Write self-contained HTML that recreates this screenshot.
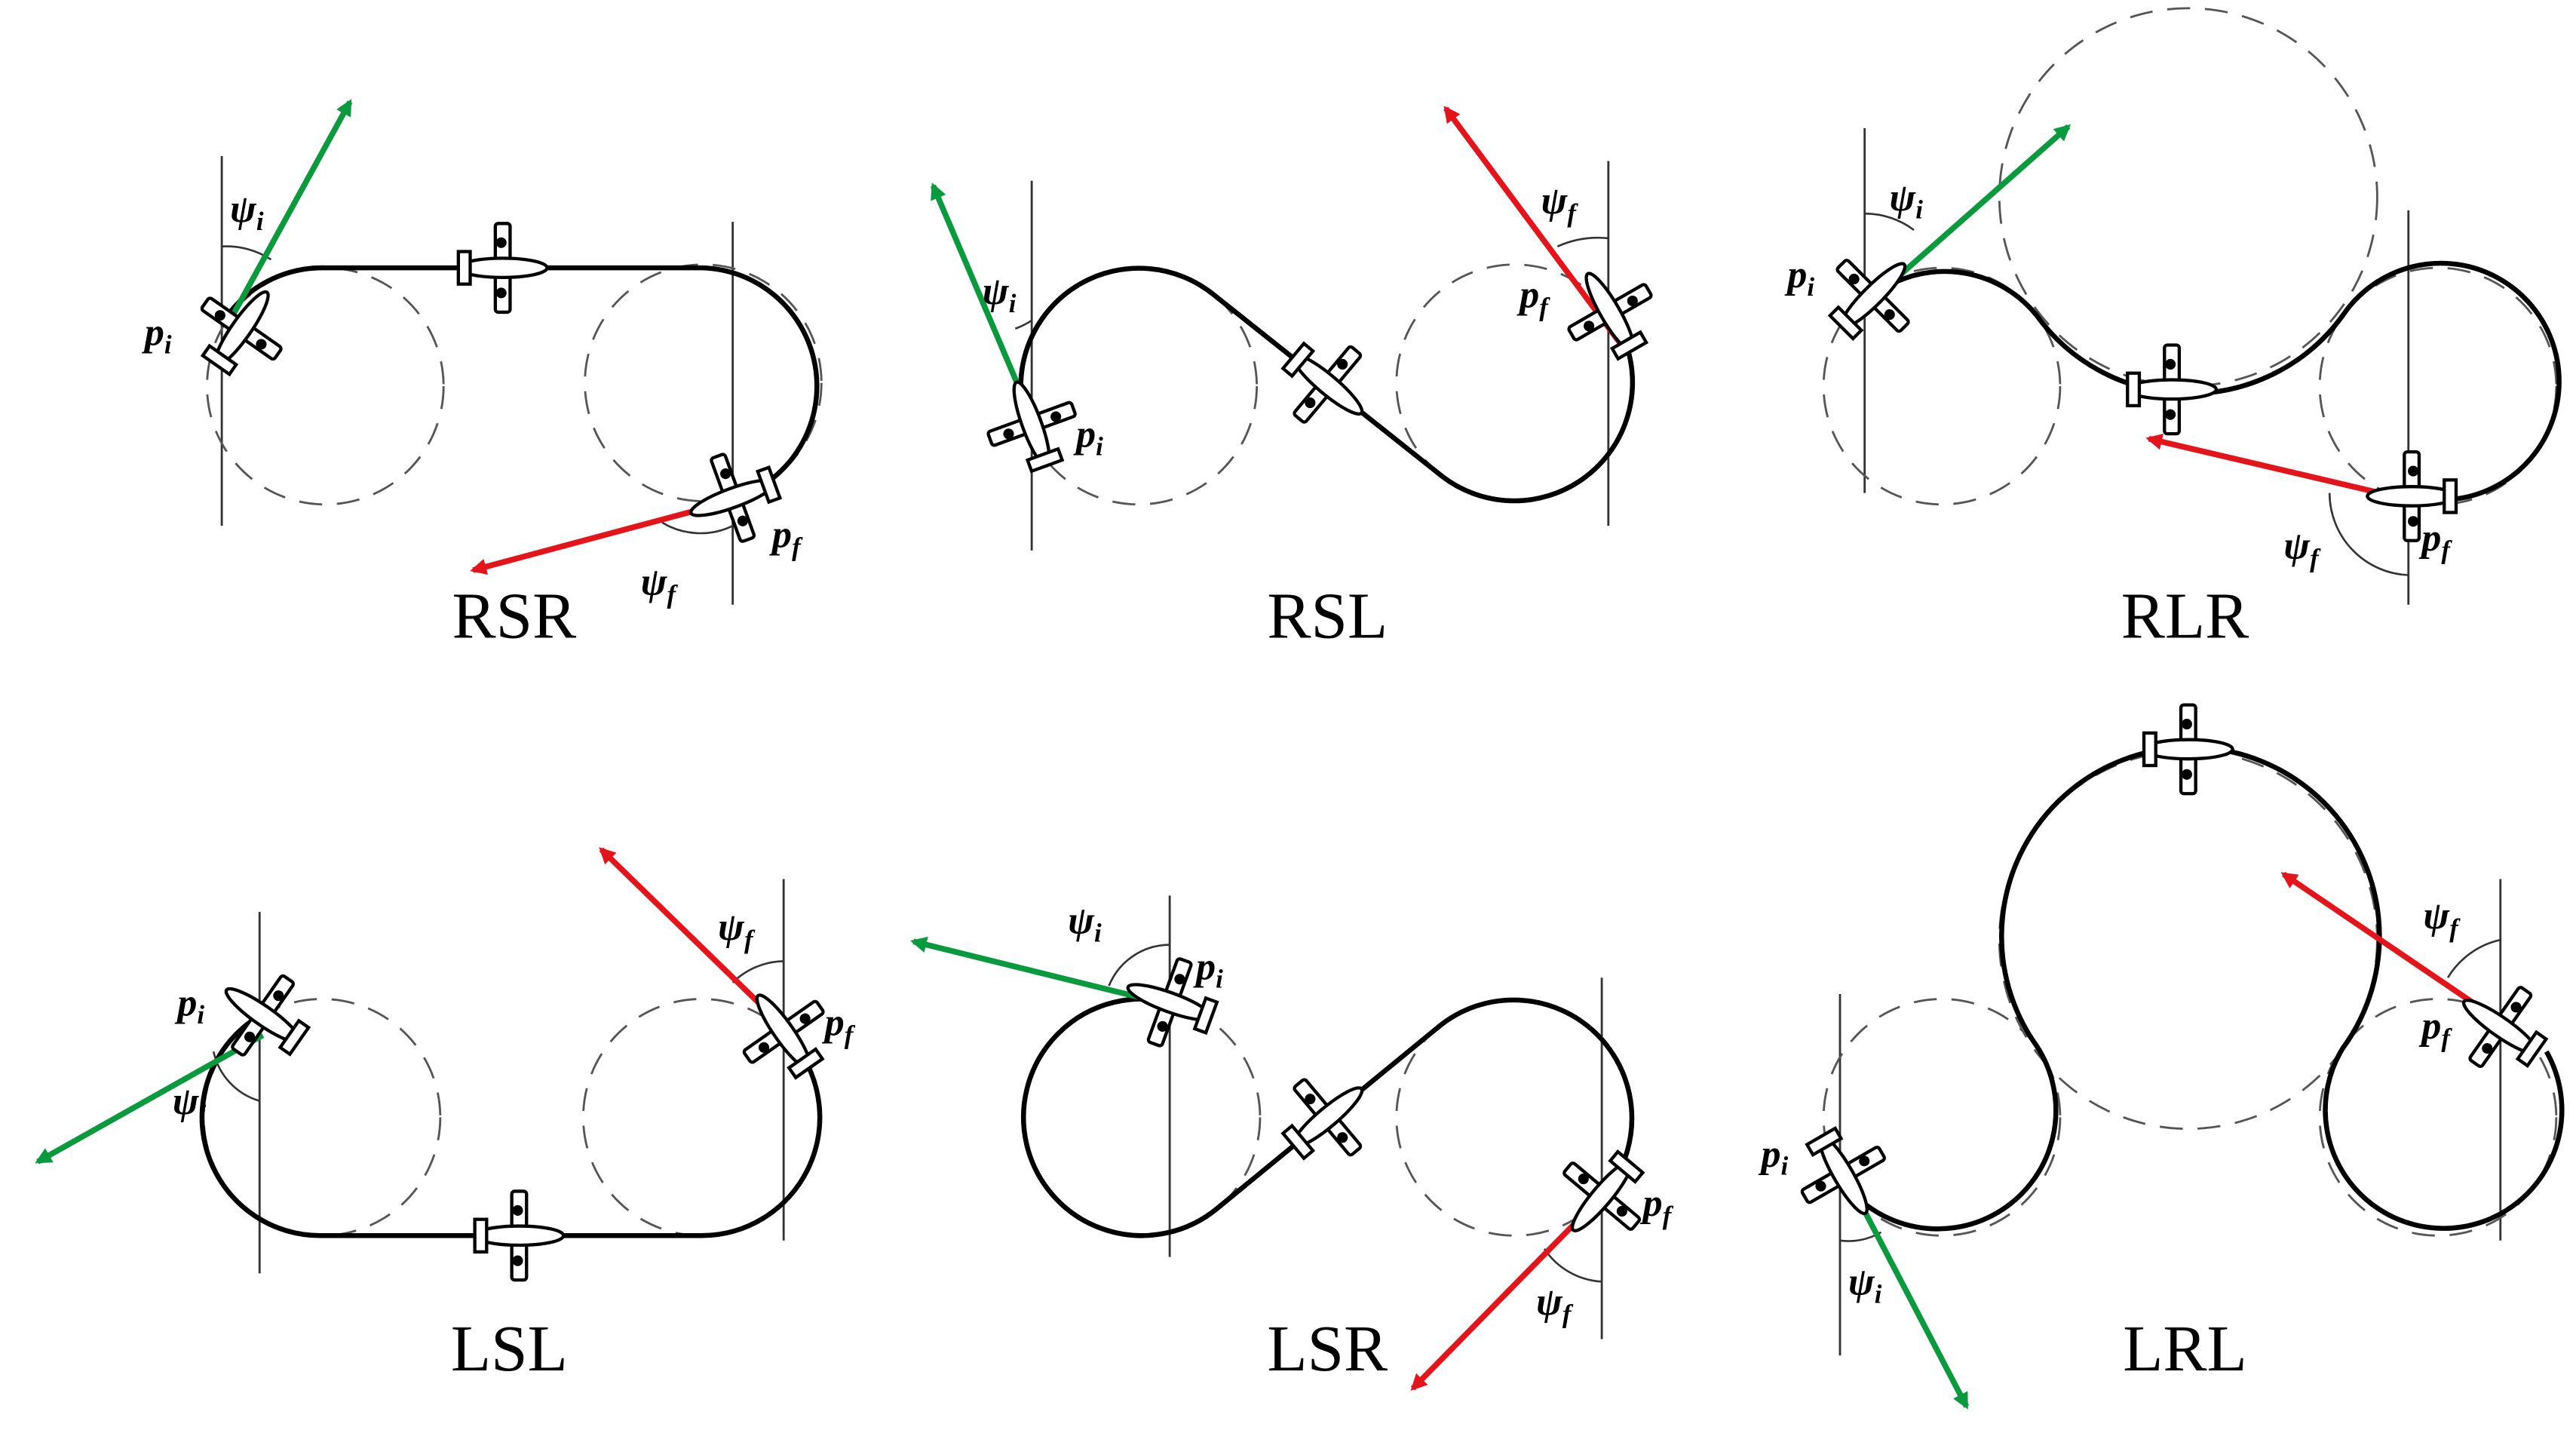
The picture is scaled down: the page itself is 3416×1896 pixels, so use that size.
<!DOCTYPE html>
<html><head><meta charset="utf-8"><style>html,body{margin:0;padding:0;background:#fff}svg{display:block}</style></head>
<body>
<svg width="3416" height="1896" viewBox="0 0 1568 870.3" xmlns="http://www.w3.org/2000/svg" font-family="Liberation Serif, serif">
<defs>
<g id="pl" fill="#fff" stroke="#000" stroke-width="2.2">
<rect x="-5" y="-30" width="10" height="60" rx="2"/>
<circle cx="-1" cy="-17" r="2.5" fill="#000"/><circle cx="-1" cy="17" r="2.5" fill="#000"/>
<ellipse cx="0" cy="0" rx="30" ry="6.5"/>
<rect x="-30" y="-11" width="8" height="22"/>
</g>
<marker id="ag" markerWidth="10" markerHeight="10" refX="8" refY="5" orient="auto" markerUnits="userSpaceOnUse"><path d="M0,0 L10,5 L0,10 Z" fill="#0a9a3e"/></marker>
<marker id="ar" markerWidth="10" markerHeight="10" refX="8" refY="5" orient="auto" markerUnits="userSpaceOnUse"><path d="M0,0 L10,5 L0,10 Z" fill="#e5141b"/></marker>
</defs>
<rect width="1568" height="871" fill="#fff"/>
<g stroke="#333" stroke-width="1.3" fill="none">
<line x1="135" y1="95" x2="135" y2="320"/><line x1="446" y1="135" x2="446" y2="368"/>
<line x1="628" y1="110" x2="628" y2="335"/><line x1="979" y1="98" x2="979" y2="320"/>
<line x1="1135" y1="78" x2="1135" y2="300"/><line x1="1466" y1="128" x2="1466" y2="368"/>
<line x1="158" y1="555" x2="158" y2="775"/><line x1="477" y1="535" x2="477" y2="755"/>
<line x1="712" y1="545" x2="712" y2="765"/><line x1="975" y1="595" x2="975" y2="815"/>
<line x1="1120" y1="605" x2="1120" y2="825"/><line x1="1522" y1="535" x2="1522" y2="755"/>
</g>
<g stroke="#555" stroke-width="1.3" fill="none" stroke-dasharray="14,9">
<circle cx="198" cy="235" r="72"/><circle cx="428" cy="233" r="72"/>
<circle cx="693" cy="235" r="72"/><circle cx="922" cy="233" r="72"/>
<circle cx="1182" cy="235" r="72"/><circle cx="1332" cy="120" r="115"/><circle cx="1484" cy="235" r="72"/>
<circle cx="196" cy="680" r="72"/><circle cx="427" cy="680" r="72"/>
<circle cx="695" cy="680" r="72"/><circle cx="922" cy="680" r="72"/>
<circle cx="1182" cy="680" r="72"/><circle cx="1332" cy="572" r="115"/><circle cx="1484" cy="680" r="72"/>
</g>
<g stroke="#000" stroke-width="3" fill="none">
<path d="M140,190 A72,72 0 0 1 198,163 L428,163 A72,72 0 0 1 460,298"/>
<path d="M622,245 A72,72 0 0 1 738.3,179 L876.7,289 A72,72 0 0 0 990,210"/>
<path d="M1140,180 A72,72 0 0 1 1239.5,191.7 A115,115 0 0 0 1426,192 A72,72 0 1 1 1468,302"/>
<path d="M162,616 A72,72 0 0 0 196,752 L427,752 A72,72 0 0 0 484,636"/>
<path d="M712,610 A72,72 0 1 0 740.7,735.6 L876.3,624.4 A72,72 0 0 1 979.5,723"/>
<path d="M1116,710 A72,72 0 1 0 1240,637 A115,115 0 1 1 1426,638 A72,72 0 1 0 1550,640"/>
</g>
<g stroke="#333" stroke-width="1.2" fill="none">
<path d="M135,150 A50,50 0 0 1 165,158"/>
<path d="M446,320 A45,45 0 0 1 403,318"/>
<path d="M628,195 A45,45 0 0 1 618,200"/>
<path d="M979,145 A60,60 0 0 0 948,150"/>
<path d="M1135,130 A50,50 0 0 1 1165,140"/>
<path d="M1466,350 A50,50 0 0 1 1418,300"/>
<path d="M158,670 A40,40 0 0 1 130,640"/>
<path d="M477,585 A45,45 0 0 0 446,598"/>
<path d="M712,575 A40,40 0 0 0 675,600"/>
<path d="M975,780 A45,45 0 0 1 940,760"/>
<path d="M1120,755 A40,40 0 0 0 1145,750"/>
<path d="M1522,572 A50,50 0 0 0 1490,595"/>
</g>
<g stroke-width="3.5">
<line x1="140" y1="195" x2="213" y2="62" stroke="#0a9a3e" marker-end="url(#ag)"/>
<line x1="445" y1="305" x2="288" y2="347" stroke="#e5141b" marker-end="url(#ar)"/>
<line x1="622" y1="240" x2="568" y2="113" stroke="#0a9a3e" marker-end="url(#ag)"/>
<line x1="987" y1="210" x2="880" y2="66" stroke="#e5141b" marker-end="url(#ar)"/>
<line x1="1140" y1="182" x2="1259" y2="77" stroke="#0a9a3e" marker-end="url(#ag)"/>
<line x1="1470" y1="305" x2="1308" y2="267" stroke="#e5141b" marker-end="url(#ar)"/>
<line x1="160" y1="630" x2="23" y2="707" stroke="#0a9a3e" marker-end="url(#ag)"/>
<line x1="480" y1="628" x2="366" y2="517" stroke="#e5141b" marker-end="url(#ar)"/>
<line x1="714" y1="612" x2="556" y2="573" stroke="#0a9a3e" marker-end="url(#ag)"/>
<line x1="968" y1="735" x2="860" y2="845" stroke="#e5141b" marker-end="url(#ar)"/>
<line x1="1125" y1="718" x2="1197" y2="856" stroke="#0a9a3e" marker-end="url(#ag)"/>
<line x1="1527" y1="625" x2="1390" y2="532" stroke="#e5141b" marker-end="url(#ar)"/>
</g>
<g>
<use href="#pl" transform="translate(147,200) rotate(-55) scale(0.9)"/>
<use href="#pl" transform="translate(306,163) scale(0.9)"/>
<use href="#pl" transform="translate(446,303) rotate(160) scale(0.9)"/>
<use href="#pl" transform="translate(628,258) rotate(-110) scale(0.9)"/>
<use href="#pl" transform="translate(808,234) rotate(40) scale(0.9)"/>
<use href="#pl" transform="translate(980,190) rotate(-120) scale(0.9)"/>
<use href="#pl" transform="translate(1140,180) rotate(-45) scale(0.9)"/>
<use href="#pl" transform="translate(1322,237) scale(0.9)"/>
<use href="#pl" transform="translate(1468,302) rotate(180) scale(0.9)"/>
<use href="#pl" transform="translate(160,618) rotate(-145) scale(0.9)"/>
<use href="#pl" transform="translate(316,752) scale(0.9)"/>
<use href="#pl" transform="translate(477,628) rotate(-125) scale(0.9)"/>
<use href="#pl" transform="translate(712,610) rotate(-160) scale(0.9)"/>
<use href="#pl" transform="translate(808,680) rotate(-40) scale(0.9)"/>
<use href="#pl" transform="translate(975,728) rotate(130) scale(0.9)"/>
<use href="#pl" transform="translate(1122,715) rotate(60) scale(0.9)"/>
<use href="#pl" transform="translate(1332,456) scale(0.9)"/>
<use href="#pl" transform="translate(1522,625) rotate(-145) scale(0.9)"/>
</g>
<g font-size="40" text-anchor="middle" fill="#000">
<text x="313" y="388">RSR</text><text x="808" y="388">RSL</text><text x="1330" y="388">RLR</text>
<text x="310" y="834">LSL</text><text x="808" y="834">LSR</text><text x="1330" y="834">LRL</text>
</g>
<g font-size="24" font-style="italic" font-weight="bold" fill="#000">
<text x="140" y="135">ψ<tspan font-size="16" dy="5">i</tspan></text>
<text x="88" y="210">p<tspan font-size="16" dy="5">i</tspan></text>
<text x="470" y="333">p<tspan font-size="16" dy="5">f</tspan></text>
<text x="390" y="362">ψ<tspan font-size="16" dy="5">f</tspan></text>
<text x="598" y="185">ψ<tspan font-size="16" dy="5">i</tspan></text>
<text x="655" y="272">p<tspan font-size="16" dy="5">i</tspan></text>
<text x="938" y="130">ψ<tspan font-size="16" dy="5">f</tspan></text>
<text x="925" y="187">p<tspan font-size="16" dy="5">f</tspan></text>
<text x="1150" y="128">ψ<tspan font-size="16" dy="5">i</tspan></text>
<text x="1088" y="175">p<tspan font-size="16" dy="5">i</tspan></text>
<text x="1390" y="340">ψ<tspan font-size="16" dy="5">f</tspan></text>
<text x="1474" y="335">p<tspan font-size="16" dy="5">f</tspan></text>
<text x="108" y="618">p<tspan font-size="16" dy="5">i</tspan></text>
<text x="105" y="678">ψ<tspan font-size="16" dy="5">i</tspan></text>
<text x="437" y="572">ψ<tspan font-size="16" dy="5">f</tspan></text>
<text x="502" y="630">p<tspan font-size="16" dy="5">f</tspan></text>
<text x="650" y="568">ψ<tspan font-size="16" dy="5">i</tspan></text>
<text x="728" y="596">p<tspan font-size="16" dy="5">i</tspan></text>
<text x="1000" y="740">p<tspan font-size="16" dy="5">f</tspan></text>
<text x="935" y="800">ψ<tspan font-size="16" dy="5">f</tspan></text>
<text x="1072" y="710">p<tspan font-size="16" dy="5">i</tspan></text>
<text x="1125" y="788">ψ<tspan font-size="16" dy="5">i</tspan></text>
<text x="1475" y="565">ψ<tspan font-size="16" dy="5">f</tspan></text>
<text x="1474" y="632">p<tspan font-size="16" dy="5">f</tspan></text>
</g>
</svg>
</body></html>
